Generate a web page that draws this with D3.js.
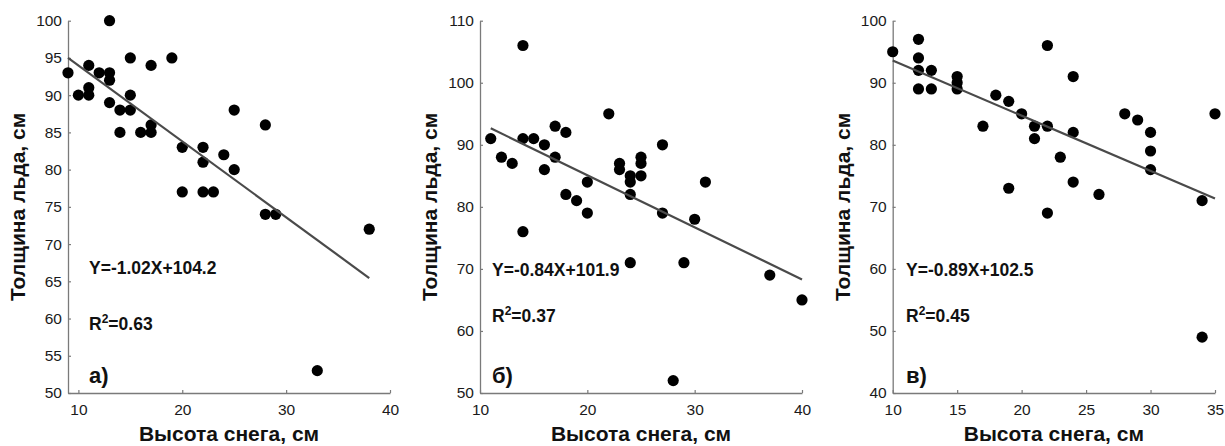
<!DOCTYPE html>
<html>
<head>
<meta charset="utf-8">
<script src="https://cdn.jsdelivr.net/npm/d3@7"></script>
<style>
  html, body { margin: 0; padding: 0; background: #fff; }
  svg { display: block; }
  text { font-family: Arial, "Liberation Sans", sans-serif; }
</style>
</head>
<body>
<svg id="chart" width="1225" height="446"></svg>
<script>
// Panel а) snow depth (cm) vs ice thickness (cm)
const snowA = [9, 10, 11, 11, 11, 12, 13, 13, 13, 13, 14, 14, 15, 15, 15, 16, 17, 17, 17,
               19, 20, 20, 22, 22, 22, 23, 24, 25, 25, 28, 28, 29, 33, 38];
const iceA  = [93, 90, 94, 91, 90, 93, 100, 93, 92, 89, 88, 85, 95, 90, 88, 85, 94, 86, 85,
               95, 83, 77, 83, 81, 77, 77, 82, 88, 80, 86, 74, 74, 53, 72];

// Panel б)
const snowB = [11, 12, 13, 14, 14, 14, 15, 16, 16, 17, 17, 18, 18, 19, 20, 20, 22, 23, 23,
               24, 24, 24, 24, 25, 25, 25, 27, 27, 28, 29, 30, 31, 37, 40];
const iceB  = [91, 88, 87, 106, 91, 76, 91, 90, 86, 93, 88, 92, 82, 81, 84, 79, 95, 87, 86,
               85, 84, 82, 71, 88, 87, 85, 90, 79, 52, 71, 78, 84, 69, 65];

// Panel в)
const snowC = [10, 12, 12, 12, 12, 13, 13, 15, 15, 15, 17, 18, 19, 19, 20, 21, 21, 22, 22,
               22, 23, 24, 24, 24, 26, 28, 29, 30, 30, 30, 34, 34, 35];
const iceC  = [95, 97, 94, 92, 89, 92, 89, 91, 90, 89, 83, 88, 87, 73, 85, 83, 81, 96, 83,
               69, 78, 91, 82, 74, 72, 85, 84, 82, 79, 76, 71, 49, 85];

// Regression fits: slope, intercept, R²
const slopes     = [-1.02, -0.84, -0.89];
const intercepts = [104.2, 101.9, 102.5];
const r2Values   = ["0.63", "0.37", "0.45"];
const equations  = ["Y=-1.02X+104.2", "Y=-0.84X+101.9", "Y=-0.89X+102.5"];
const panelTags  = ["а)", "б)", "в)"];

// Axis domains and tick values
const xDomains = [[9, 40], [10, 40], [10, 35]];
const yDomains = [[50, 100], [50, 110], [40, 100]];
const xTicks = [[10, 20, 30, 40], [10, 20, 30, 40], [10, 15, 20, 25, 30, 35]];
const yTicks = [[50, 55, 60, 65, 70, 75, 80, 85, 90, 95, 100],
                [50, 60, 70, 80, 90, 100, 110],
                [40, 50, 60, 70, 80, 90, 100]];

const xTitle = "Высота снега, см";
const yTitle = "Толщина льда, см";

const panels = [
  { x: snowA, y: iceA },
  { x: snowB, y: iceB },
  { x: snowC, y: iceC }
];

// Plot areas in pixels
const frames = [
  { left: 68,    right: 390,  top: 20.7, bottom: 393, eqY: 274, r2Y: 330, tagY: 383, textX: 89 },
  { left: 480,   right: 802,  top: 20.7, bottom: 393, eqY: 276, r2Y: 322, tagY: 383, textX: 492 },
  { left: 892.7, right: 1215, top: 20.7, bottom: 393, eqY: 276, r2Y: 322, tagY: 383, textX: 906 }
];

const svg = d3.select("#chart");
const axisColor = "#7a7a7a";

panels.forEach((p, i) => {
  const f = frames[i];
  const x = d3.scaleLinear().domain(xDomains[i]).range([f.left, f.right]);
  const y = d3.scaleLinear().domain(yDomains[i]).range([f.bottom, f.top]);
  const g = svg.append("g");

  // Axes with short inward ticks
  const gx = g.append("g")
    .attr("transform", `translate(0,${f.bottom})`)
    .call(d3.axisBottom(x).tickValues(xTicks[i]).tickSizeInner(-3).tickSizeOuter(0).tickPadding(11));
  const gy = g.append("g")
    .attr("transform", `translate(${f.left},0)`)
    .call(d3.axisLeft(y).tickValues(yTicks[i]).tickSizeInner(-3).tickSizeOuter(0).tickPadding(6));
  [gx, gy].forEach(a => {
    a.select(".domain").attr("stroke", axisColor).attr("stroke-width", 1.3);
    a.selectAll(".tick line").attr("stroke", axisColor).attr("stroke-width", 1.2);
    a.selectAll(".tick text").attr("font-size", 15.5).attr("fill", "#1a1a1a")
      .attr("font-family", "Arial, 'Liberation Sans', sans-serif");
  });

  // Points
  const pts = p.x.map((v, k) => [v, p.y[k]]);
  g.append("g").selectAll("circle").data(pts).join("circle")
    .attr("cx", d => x(d[0]))
    .attr("cy", d => y(d[1]))
    .attr("r", 5.6)
    .attr("fill", "#000");

  // Regression line across the range of observed snow depth
  const [x0, x1] = d3.extent(p.x);
  const fit = v => slopes[i] * v + intercepts[i];
  g.append("line")
    .attr("x1", x(x0)).attr("y1", y(fit(x0)))
    .attr("x2", x(x1)).attr("y2", y(fit(x1)))
    .attr("stroke", "#4a4a4a").attr("stroke-width", 2.2);

  // Annotations
  g.append("text").attr("x", f.textX).attr("y", f.eqY)
    .attr("font-size", 17.5).attr("font-weight", "bold").attr("fill", "#111")
    .text(equations[i]);
  const r2 = g.append("text").attr("x", f.textX).attr("y", f.r2Y)
    .attr("font-size", 17.5).attr("font-weight", "bold").attr("fill", "#111");
  r2.append("tspan").text("R");
  r2.append("tspan").attr("font-size", 12).attr("dy", -7).text("2");
  r2.append("tspan").attr("dy", 7).text("=" + r2Values[i]);
  g.append("text").attr("x", f.textX).attr("y", f.tagY)
    .attr("font-size", 22).attr("font-weight", "bold").attr("fill", "#111")
    .text(panelTags[i]);

  // Axis titles
  g.append("text")
    .attr("x", (f.left + f.right) / 2).attr("y", 441)
    .attr("text-anchor", "middle")
    .attr("font-size", 21).attr("font-weight", "bold").attr("fill", "#111")
    .text(xTitle);
  g.append("text")
    .attr("transform", `translate(${f.left - 43},${(f.top + f.bottom) / 2}) rotate(-90)`)
    .attr("text-anchor", "middle")
    .attr("font-size", 21).attr("font-weight", "bold").attr("fill", "#111")
    .text(yTitle);
});
</script>
</body>
</html>
